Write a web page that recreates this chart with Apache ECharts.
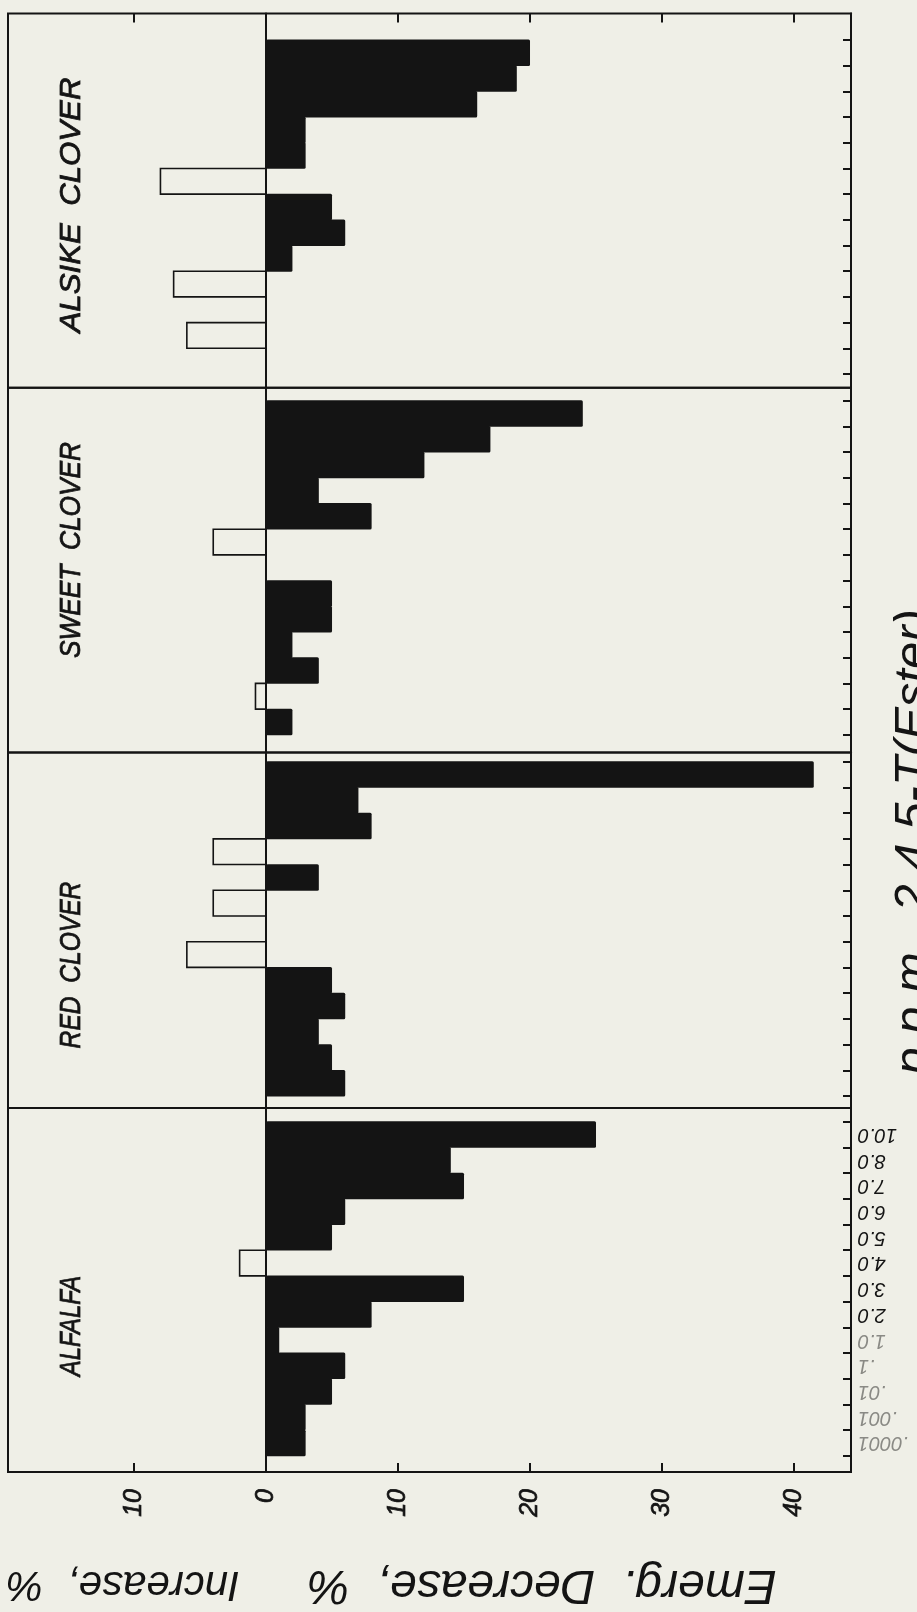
<!DOCTYPE html>
<html>
<head>
<meta charset="utf-8">
<script src="https://cdn.jsdelivr.net/npm/echarts@6/dist/echarts.min.js"></script>
<style>
  html, body { margin: 0; padding: 0; background: #efefe7; }
  #chart { width: 917px; height: 1612px; }
</style>
</head>
<body>
<div id="chart"></div>
<script>
// Concentrations of 2,4,5-T ester in p.p.m., lowest first (bottom of each panel)
const concentrations = ['.0001', '.001', '.01', '.1', '1.0', '2.0', '3.0', '4.0', '5.0', '6.0', '7.0', '8.0', '10.0'];
// Concentration labels printed lighter than the rest
const faintConcentrations = ['.0001', '.001', '.01', '.1', '1.0'];

// Emergence decrease, %, in the same order; negative values are increases
const alfalfa      = [3, 3, 5, 6, 1, 8, 15, -2, 5, 6, 15, 14, 25];
const redClover    = [6, 5, 4, 6, 5, -6, 0, -4, 4, -4, 8, 7, 41.5];
const sweetClover  = [2, -0.8, 4, 2, 5, 5, 0, -4, 8, 4, 12, 17, 24];
const alsikeClover = [0, -6, 0, -7, 2, 6, 5, -8, 3, 3, 16, 19, 20];

const cropNames = ['ALSIKE  CLOVER', 'SWEET  CLOVER', 'RED  CLOVER', 'ALFALFA'];
const valueTicks = [-10, 0, 10, 20, 30, 40];

const axisNameIncrease = 'Increase,  %';
const axisNameDecrease = 'Emerg.  Decrease,  %';
const concentrationTitle = 'p.p.m.  2,4,5-T(Ester)';

// ---- layout ----
const INK = '#141414';
const FAINT = '#8a8a85';
const PAPER = '#efefe7';
const FRAME_LEFT = 8, FRAME_RIGHT = 851, CHART_W = 917;
const X_MIN = -19.55, X_MAX = 44.32;

// panel frames (top/bottom), the span of the concentration bands inside them,
// and where each crop name sits (centre along the panel, horizontal squeeze)
const panelLayout = [
  { top: 13.4,  bottom: 387.7, bandTop: 40,     bandBottom: 374,    labelY: 205,  labelScale: 1.04 },
  { top: 387.7, bottom: 752.5, bandTop: 400.7,  bandBottom: 734.8,  labelY: 550,  labelScale: 0.875 },
  { top: 752.5, bottom: 1108,  bandTop: 761.7,  bandBottom: 1096,   labelY: 965,  labelScale: 0.82 },
  { top: 1108,  bottom: 1472,  bandTop: 1121.7, bandBottom: 1455.8, labelY: 1326, labelScale: 0.8 }
];
const panelData = [alsikeClover, sweetClover, redClover, alfalfa];

const nBands = concentrations.length;
const bandEdges = concentrations.map((c, k) => k).concat([nBands]);
const edgeTicks = valueTicks.filter(v => v !== 0);

const grids = [], xAxes = [], yAxes = [], series = [], graphics = [];

panelLayout.forEach((p, i) => {
  const bandH = (p.bandBottom - p.bandTop) / nBands;
  const yMax = nBands + (p.bandTop - p.top) / bandH;
  const yMin = -(p.bottom - p.bandBottom) / bandH;
  const isFirst = i === 0, isLast = i === panelLayout.length - 1;

  grids.push({
    left: FRAME_LEFT, right: CHART_W - FRAME_RIGHT,
    top: p.top, height: p.bottom - p.top,
    show: true, borderColor: INK, borderWidth: 2,
    backgroundColor: 'transparent',
    outerBoundsMode: 'none'
  });

  xAxes.push({
    gridIndex: i, type: 'value', min: X_MIN, max: X_MAX,
    show: isFirst || isLast,
    position: isFirst ? 'top' : 'bottom',
    axisLine: { show: false, onZero: false },
    splitLine: { show: false },
    axisTick: {
      show: true, inside: true, length: 9,
      customValues: edgeTicks,
      lineStyle: { color: INK, width: 2 }
    },
    axisLabel: {
      show: isLast,
      customValues: valueTicks,
      rotate: 90, margin: 17,
      color: INK,
      textBorderColor: INK, textBorderWidth: 0.7,
      fontFamily: 'Liberation Sans', fontStyle: 'italic', fontSize: 25,
      formatter: v => String(Math.abs(v))
    }
  });

  // concentration axis along the right edge of the frame
  yAxes.push({
    gridIndex: i, type: 'value', position: 'right', min: yMin, max: yMax,
    axisLine: { show: true, onZero: false, lineStyle: { color: INK, width: 2 } },
    splitLine: { show: false },
    axisTick: {
      show: true, inside: true, length: 8,
      customValues: bandEdges,
      lineStyle: { color: INK, width: 2 }
    },
    axisLabel: { show: false }
  });

  // zero line between increase and decrease
  yAxes.push({
    gridIndex: i, type: 'value', position: 'left', min: yMin, max: yMax,
    axisLine: { show: true, onZero: true, lineStyle: { color: INK, width: 2 } },
    axisTick: { show: false }, axisLabel: { show: false }, splitLine: { show: false }
  });

  series.push({
    type: 'custom',
    name: cropNames[i],
    xAxisIndex: i, yAxisIndex: 2 * i,
    data: panelData[i].map((v, k) => [v, k]),
    encode: { x: 0, y: 1 },
    clip: false,
    renderItem: (params, api) => {
      const v = api.value(0), k = api.value(1);
      if (v === 0) return null;
      const a = api.coord([0, k]);
      const b = api.coord([v, k + 1]);
      const x = Math.min(a[0], b[0]);
      const w = Math.abs(b[0] - a[0]);
      const y = b[1], h = a[1] - b[1];
      if (v > 0) {
        return { type: 'rect', shape: { x: x, y: y - 0.4, width: w, height: h + 0.8, r: 1.5 },
                 style: { fill: INK } };
      }
      return { type: 'rect', shape: { x: x, y: y, width: w, height: h },
               style: { fill: 'none', stroke: INK, lineWidth: 1.6 } };
    }
  });

  graphics.push({
    type: 'text', x: 72, y: p.labelY, rotation: Math.PI / 2, scaleX: p.labelScale,
    style: {
      text: cropNames[i], fill: INK, stroke: INK, lineWidth: 0.8,
      font: 'italic 30px "Liberation Sans"',
      align: 'center', verticalAlign: 'middle'
    }
  });
});

graphics.push(
  { type: 'text', x: 123, y: 1584, rotation: Math.PI,
    style: { text: axisNameIncrease, fill: INK, font: 'italic 42px "Liberation Sans"',
             align: 'center', verticalAlign: 'middle' } },
  { type: 'text', x: 542, y: 1584, rotation: Math.PI,
    style: { text: axisNameDecrease, fill: INK, font: 'italic 48px "Liberation Sans"',
             align: 'center', verticalAlign: 'middle' } },
  { type: 'text', x: 914, y: 842, rotation: Math.PI / 2,
    style: { text: concentrationTitle, fill: INK, font: 'italic 49px "Liberation Sans"',
             align: 'center', verticalAlign: 'middle' } }
);

const chart = echarts.init(document.getElementById('chart'), null, { renderer: 'canvas' });
chart.setOption({
  backgroundColor: PAPER,
  animation: false,
  grid: grids,
  xAxis: xAxes,
  yAxis: yAxes,
  series: series
});

// concentration labels beside the lowest panel, turned upside down,
// placed at each band centre through that panel's axes
const lastSeries = panelLayout.length - 1;
concentrations.forEach((lab, k) => {
  const pt = chart.convertToPixel({ seriesIndex: lastSeries }, [X_MAX, k + 0.5]);
  graphics.push({
    type: 'text', x: pt[0] + 7, y: pt[1], rotation: Math.PI,
    style: {
      text: lab,
      fill: faintConcentrations.includes(lab) ? FAINT : INK,
      font: 'italic 20px "Liberation Sans"',
      align: 'right', verticalAlign: 'middle'
    }
  });
});

chart.setOption({ graphic: graphics });
</script>
</body>
</html>
